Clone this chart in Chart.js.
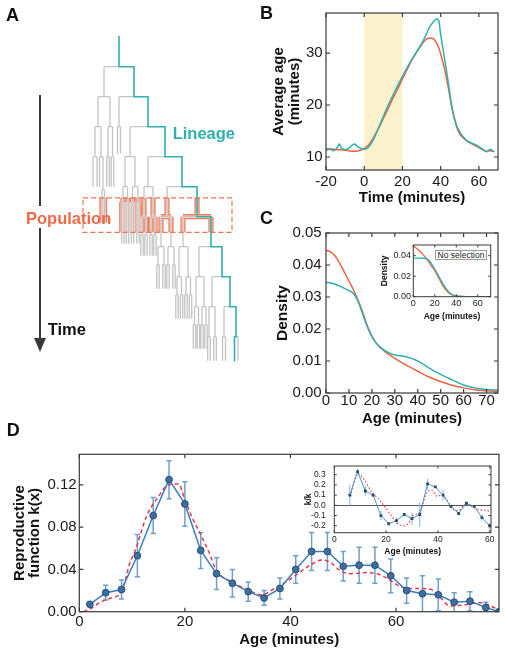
<!DOCTYPE html>
<html>
<head>
<meta charset="utf-8">
<script src="https://cdn.jsdelivr.net/npm/chart.js@4"></script>
<style>
  html, body { margin: 0; padding: 0; background: #fff; }
  body { width: 505px; height: 654px; position: relative; overflow: hidden;
         font-family: "Liberation Sans", Arial, Helvetica, sans-serif; }
  canvas, .txt, .shape { position: absolute; }
  .txt { white-space: nowrap; font-weight: bold; }
  .panel { font-size: 18px; line-height: 18px; color: #111; }
  .note { font-size: 16.5px; line-height: 16.5px; }
</style>
</head>
<body>
<canvas id="tree" width="260" height="370" style="left:0;top:0"></canvas>
<canvas id="ageTime" width="255" height="206" style="left:250px;top:0"></canvas>
<canvas id="density" width="255" height="213" style="left:250px;top:214px"></canvas>
<canvas id="densityInset" width="115" height="82" style="left:380px;top:240px"></canvas>
<canvas id="repro" width="505" height="208" style="left:0;top:440px"></canvas>
<canvas id="reproInset" width="195" height="95" style="left:300px;top:462px"></canvas>

<div class="shape" style="left:39px;top:95px;width:2px;height:111px;background:#3a3a3a"></div>
<div class="shape" style="left:39px;top:228px;width:2px;height:112px;background:#3a3a3a"></div>
<div class="shape" style="left:34px;top:338px;width:0;height:0;border-left:6px solid transparent;border-right:6px solid transparent;border-top:14px solid #3a3a3a"></div>

<div class="txt panel" style="left:6px;top:6px">A</div>
<div class="txt panel" style="left:260px;top:4.4px">B</div>
<div class="txt panel" style="left:260px;top:209.4px">C</div>
<div class="txt panel" style="left:6.7px;top:420.7px">D</div>
<div class="txt note" style="left:172.7px;top:125.2px;color:#2fb0ad">Lineage</div>
<div class="txt note" style="left:26px;top:209.5px;color:#ef6a47">Population</div>
<div class="txt note" style="left:47.7px;top:320.5px;color:#111">Time</div>
<div class="txt" style="left:435px;top:250px;width:52px;height:10px;box-sizing:border-box;border:1px solid #9a9a9a;background:#fff;font-weight:normal;font-size:8.5px;line-height:8px;text-align:center;color:#222">No selection</div>

<script>
const teal = "#2fb0ad";
const orange = "#f0623f";
const frameColor = "#3a3a3a";

// panel B: average age over time
const bTime = [-20, -18, -16, -14, -13, -12, -10, -8, -6, -5, -4, -2,
  0, 2, 4, 6, 8, 10, 12, 14, 16, 18, 20, 22, 24, 26, 28, 30, 32, 34, 36, 38, 39,
  40, 42, 44, 46, 48, 50, 52, 54, 56, 58, 60, 62, 64, 66, 68];
const bPopulation = [11.6, 11.6, 11.5, 11.4, 11.4, 11.4, 11.3, 11.2, 11.1, 11.1, 11.1, 11.3,
  11.6, 12.2, 13.2, 14.5, 15.9, 17.4, 18.9, 20.5, 22.0, 23.5, 25.0, 26.5, 28.0, 29.3, 30.5, 31.6, 32.5, 32.9, 32.8, 31.8, 31.0,
  29.8, 27.0, 23.3, 19.2, 16.2, 14.4, 13.6, 13.0, 12.6, 12.2, 11.8, 11.4, 11.1, 11.2, 11.0];
const bLineage = [11.3, 11.5, 11.2, 11.9, 12.5, 11.8, 11.4, 11.7, 12.4, 12.5, 12.2, 11.7,
  11.5, 11.8, 12.8, 14.3, 16.0, 17.8, 19.5, 21.1, 22.6, 24.1, 25.5, 26.9, 28.2, 29.4, 30.6, 31.8, 33.2, 34.9, 35.9, 36.6, 36.2,
  33.6, 29.0, 24.3, 19.4, 16.4, 14.8, 13.8, 13.1, 12.7, 12.4, 12.0, 11.5, 11.0, 11.5, 11.0];
const bSelection = [0, 20];
const bXTicks = [-20, 0, 20, 40, 60];
const bYTicks = [10, 20, 30];

// panel C: age density
const cAge = [0, 2, 4, 6, 8, 10, 12, 14, 16, 18, 20, 22, 24, 26, 28, 30, 35, 40, 45, 50, 55, 60, 65, 70, 75];
const cPopulation = [0.0446, 0.0441, 0.0428, 0.0405, 0.0378, 0.0350, 0.0322, 0.0290, 0.0252, 0.0210, 0.0178, 0.0155, 0.0140,
  0.0128, 0.0118, 0.0108, 0.0087, 0.0068, 0.0050, 0.0036, 0.0024, 0.0016, 0.0010, 0.0007, 0.0005];
const cLineage = [0.0346, 0.0344, 0.0340, 0.0334, 0.0327, 0.0320, 0.0311, 0.0286, 0.0247, 0.0207, 0.0177, 0.0155, 0.0141,
  0.0131, 0.0124, 0.0119, 0.0113, 0.0100, 0.0078, 0.0058, 0.0041, 0.0025, 0.0016, 0.0011, 0.0009];
const cXTicks = [0, 10, 20, 30, 40, 50, 60, 70];
const cYTicks = [0, 0.01, 0.02, 0.03, 0.04, 0.05];

// panel C inset: no selection
const ciAge = [0, 5, 10, 14, 17, 20, 25, 30, 35, 40, 45, 50, 60, 72];
const ciPopulation = [0.0495, 0.0455, 0.0400, 0.0345, 0.0298, 0.0255, 0.0155, 0.0070, 0.0022, 0.0007, 0.0002, 0, 0, 0];
const ciLineage = [0.0376, 0.0376, 0.0375, 0.0360, 0.0320, 0.0270, 0.0175, 0.0085, 0.0028, 0.0009, 0.0003, 0.0001, 0, 0];
const ciXTicks = [0, 20, 40, 60];
const ciYTicks = [0, 0.02, 0.04];

// panel D: reproductive function
const dAge = [2, 5, 8, 11, 14, 17, 20, 23, 26, 29, 32, 35, 38, 41, 44, 47, 50, 53, 56, 59, 62, 65, 68, 71, 74, 77, 79.5];
const dK = [0.007, 0.018, 0.021, 0.053, 0.091, 0.125, 0.102, 0.058, 0.036, 0.027, 0.019, 0.013, 0.022, 0.040,
  0.057, 0.057, 0.043, 0.044, 0.044, 0.034, 0.020, 0.017, 0.016, 0.009, 0.010, 0.004, 0.000];
const dErr = [0, 0.007, 0.009, 0.020, 0.017, 0.018, 0.021, 0.017, 0.015, 0.013, 0.009, 0.007, 0.010, 0.013,
  0.018, 0.018, 0.014, 0.017, 0.017, 0.016, 0.012, 0.017, 0.015, 0.009, 0.009, 0.005, 0];
const dFitAge = [0.8, 2.5, 4, 6, 7.5, 8.5, 9.5, 10.6, 12.8, 15, 16.8, 18.8, 20, 21.3, 22.9, 24.5, 26, 28.9, 32, 34.5, 37,
  40, 43.7, 45.9, 47.5, 49.4, 51.3, 54.4, 57, 58.8, 60.7, 63.3, 66.4, 68.3, 70.2, 72.7, 75.9, 79];
const dFitK = [0, 0.004, 0.009, 0.013, 0.016, 0.026, 0.045, 0.058, 0.091, 0.109, 0.120, 0.121, 0.106, 0.090, 0.074, 0.057,
  0.039, 0.028, 0.0205, 0.016, 0.022, 0.031, 0.044, 0.049, 0.047, 0.039, 0.036, 0.037, 0.035, 0.030, 0.024, 0.022,
  0.0215, 0.014, 0.0054, 0.0063, 0.0085, 0.003];
const dXTicks = [0, 20, 40, 60];
const dYTicks = [0, 0.04, 0.08, 0.12];

// panel D inset: relative change k/k
const diAge = [6, 9, 12, 15, 18, 21, 24, 27, 30, 33, 36, 39, 42, 45, 48, 51, 54, 57, 60];
const diK = [0.10, 0.33, 0.14, 0.10, -0.10, -0.18, -0.15, -0.09, -0.13, -0.09, 0.21, 0.18, 0.10, -0.01, -0.08, 0.02, -0.01, -0.12, -0.20];
const diErr = [0.10, 0.03, 0.05, 0.02, 0.045, 0.01, 0.03, 0.01, 0.06, 0.12, 0.05, 0.01, 0.05, 0.01, 0.01, 0.01, 0.01, 0.03, 0.03];
const diFitAge = [6.2, 9, 11.6, 14.2, 16.8, 19.4, 22, 24.6, 26.5, 28.5, 30.5, 33, 35.6, 37.6, 39.6, 41.5, 43.5, 45.5, 48, 50.6, 53, 55.6, 58, 60.5];
const diFitK = [0.09, 0.31, 0.25, 0.14, 0.07, -0.01, -0.10, -0.18, -0.20, -0.18, -0.10, -0.07, 0.12, 0.15, 0.09, 0.10, 0.05,
  -0.03, -0.05, 0.01, -0.01, -0.04, -0.05, -0.06];
const diXTicks = [0, 20, 40, 60];
const diYTicks = [-0.2, -0.1, 0, 0.1, 0.2, 0.3];

// panel A: cell tree (x = lane position, end = division time in generations)
const N = (x, end, kids = []) => ({ x, end, kids, lin: false });
const L = (x, end, kids = []) => ({ x, end, kids, lin: true });
const P = (x, end, d, leafEnd) => N(x, end, [N(x - d, leafEnd), N(x + d, leafEnd)]);
const tree = L(119, 1, [
  N(104, 2, [
    N(98, 3, [
      P(95, 4, 2, 5),
      N(101, 4, [N(99.5, 5), N(103, 5.1, [N(102, 6.2), N(104.5, 6.2)])])
    ]),
    N(110, 3, [P(108, 4, 1.3, 5), P(112.5, 4, 1.3, 5)])
  ]),
  L(134, 2, [
    P(119, 3, 1.5, 3.9),
    L(148, 3, [
      N(130, 4, [
        N(125, 5, [P(123, 5.5, 1.2, 6.9), P(127.5, 5.5, 1.2, 6.9)]),
        N(135, 5, [P(132.5, 5.5, 1.2, 6.9), P(138, 5.5, 1.2, 6.9)])
      ]),
      L(165, 4, [
        N(148, 5, [
          N(144, 6, [P(142, 6.6, 1.2, 7.3), P(146, 6.6, 1.2, 7.3)]),
          N(153, 6, [P(151, 6.6, 1.2, 7.3), P(155, 6.6, 1.2, 7.3)])
        ]),
        L(182, 5, [
          N(167, 6, [
            N(161, 7, [P(158, 7.6, 1.2, 8.4), P(164, 7.6, 1.2, 8.4)]),
            N(171, 7, [P(168, 7.6, 1.2, 8.4), P(174, 7.6, 1.2, 8.4)])
          ]),
          L(197, 6, [
            N(183, 7, [
              N(179, 8, [P(177, 8.6, 1.2, 9.4), P(181.5, 8.6, 1.2, 9.4)]),
              N(188, 8, [P(186, 8.6, 1.2, 9.4), P(190.5, 8.6, 1.2, 9.4)])
            ]),
            L(211, 7, [
              N(199, 8, [
                N(196, 9, [P(194.5, 9.6, 1.2, 10.4), P(198.5, 9.6, 1.2, 10.4)]),
                N(204, 9, [P(202, 9.6, 1.2, 10.4), P(206, 9.6, 1.2, 10.4)])
              ]),
              L(222, 8, [
                N(212, 9, [P(209, 10, 1.3, 10.8), P(215, 10, 1.3, 10.8)]),
                L(230, 9, [
                  P(224, 10, 1.5, 10.8),
                  L(236, 10, [L(234.5, 10.8), N(238, 10.8)])
                ])
              ])
            ])
          ])
        ])
      ])
    ])
  ])
]);
const popWindow = [5.37, 6.52];
const popLanes = [83, 232];

const pts = zip => zip[0].map((x, i) => ({ x, y: zip[1][i] }));

const graySeg = [], tealSeg = [], popSeg = [];
function seg(list, x0, y0, x1, y1) {
  list.push({ x: x0, y: y0 }, { x: x1, y: y1 }, { x: x1, y: null });
}
function walk(node, start) {
  seg(node.lin ? tealSeg : graySeg, node.x, start, node.x, node.end);
  const a = Math.max(start, popWindow[0]), b = Math.min(node.end, popWindow[1]);
  if (a < b) seg(popSeg, node.x, a, node.x, b);
  if (!node.kids.length) return;
  const [k1, k2] = node.kids;
  if (node.lin) {
    const on = k1.lin ? k1 : k2, off = k1.lin ? k2 : k1;
    seg(graySeg, off.x, node.end, node.x, node.end);
    seg(tealSeg, node.x, node.end, on.x, node.end);
  } else {
    seg(graySeg, k1.x, node.end, k2.x, node.end);
  }
  if (node.end > popWindow[0] && node.end < popWindow[1]) seg(popSeg, k1.x, node.end, k2.x, node.end);
  node.kids.forEach(k => walk(k, node.end));
}
walk(tree, 0);

// matplotlib-like frame with inward ticks
const framePlugin = {
  id: "frame",
  afterDatasetsDraw(chart, args, o) {
    if (!o.on) return;
    const { ctx, chartArea: a, scales: { x, y } } = chart;
    ctx.save();
    ctx.strokeStyle = frameColor;
    ctx.lineWidth = o.width || 1.2;
    ctx.beginPath();
    x.ticks.forEach(t => {
      const p = x.getPixelForValue(t.value);
      ctx.moveTo(p, a.bottom); ctx.lineTo(p, a.bottom - o.tick);
      ctx.moveTo(p, a.top); ctx.lineTo(p, a.top + o.tick);
    });
    y.ticks.forEach(t => {
      const p = y.getPixelForValue(t.value);
      ctx.moveTo(a.left, p); ctx.lineTo(a.left + o.tick, p);
      ctx.moveTo(a.right, p); ctx.lineTo(a.right - o.tick, p);
    });
    ctx.stroke();
    ctx.strokeRect(a.left, a.top, a.right - a.left, a.bottom - a.top);
    ctx.restore();
  }
};
const shadePlugin = {
  id: "shade",
  beforeDatasetsDraw(chart, args, o) {
    if (!o.range) return;
    const { ctx, chartArea: a, scales: { x } } = chart;
    const x0 = x.getPixelForValue(o.range[0]), x1 = x.getPixelForValue(o.range[1]);
    ctx.save();
    ctx.fillStyle = o.color;
    ctx.fillRect(x0, a.top, x1 - x0, a.bottom - a.top);
    ctx.restore();
  }
};
const popBoxPlugin = {
  id: "popBox",
  afterDatasetsDraw(chart, args, o) {
    if (!o.on) return;
    const { ctx, scales: { x, y } } = chart;
    const x0 = x.getPixelForValue(popLanes[0]), x1 = x.getPixelForValue(popLanes[1]);
    const y0 = y.getPixelForValue(popWindow[0]), y1 = y.getPixelForValue(popWindow[1]);
    ctx.save();
    ctx.strokeStyle = "#f07352";
    ctx.lineWidth = 1.2;
    ctx.setLineDash([5, 3]);
    ctx.strokeRect(x0, y0, x1 - x0, y1 - y0);
    ctx.restore();
  }
};
Chart.register(framePlugin, shadePlugin, popBoxPlugin);
Chart.defaults.font.family = '"Liberation Sans", Arial, Helvetica, sans-serif';
Chart.defaults.color = "#1a1a1a";

function axis(o) {
  return {
    type: "linear", min: o.min, max: o.max,
    afterBuildTicks: s => { s.ticks = o.ticks.map(v => ({ value: v })); },
    afterFit: s => {
      if (o.width != null) s.width = o.width;
      if (o.height != null) s.height = o.height;
      s.paddingLeft = s.paddingRight = s.paddingTop = s.paddingBottom = 0;
    },
    grid: { display: !!o.gridColor, drawTicks: false, color: o.gridColor || "transparent", lineWidth: 1 },
    border: { display: false },
    ticks: {
      autoSkip: false, maxRotation: 0, minRotation: 0, padding: o.pad,
      font: { size: o.fs }, color: "#1a1a1a", callback: o.fmt
    },
    title: {
      display: true, text: o.title, color: "#111",
      font: { size: o.ts, weight: "bold", lineHeight: o.tlh },
      padding: { top: o.tpad || 0, bottom: 0 }
    }
  };
}
const fix = n => v => v.toFixed(n);
const whole = v => String(v);

function base(layoutPad, x, y, plugins) {
  return {
    responsive: false, animation: false, devicePixelRatio: 1, events: [],
    layout: { padding: layoutPad },
    scales: { x, y },
    plugins: Object.assign({ legend: { display: false }, tooltip: { enabled: false } }, plugins)
  };
}
function line(data, color, width, extra) {
  return Object.assign({ data, borderColor: color, borderWidth: width, pointRadius: 0,
    fill: false, tension: 0, spanGaps: false }, extra || {});
}

// panel A
new Chart(document.getElementById("tree"), {
  type: "line",
  data: { datasets: [
    line(tealSeg, teal, 1.6, { borderCapStyle: "square" }),
    line(graySeg, "#c4c4c4", 1.3),
    line(popSeg, "#fbd8cd", 2.6),
    line(popSeg, "#ef7a5c", 5.2)
  ] },
  options: base(0,
    { type: "linear", display: false, min: 0, max: 260 },
    { type: "linear", display: false, min: -36.7 / 30, max: (370 - 36.7) / 30, reverse: true },
    { frame: { on: false }, popBox: { on: true } })
});

// panel B
new Chart(document.getElementById("ageTime"), {
  type: "line",
  data: { datasets: [
    line(pts([bTime, bLineage]), teal, 1.5, { cubicInterpolationMode: "monotone" }),
    line(pts([bTime, bPopulation]), orange, 1.5, { cubicInterpolationMode: "monotone" })
  ] },
  options: base({ top: 13, right: 7, left: 0, bottom: 0 },
    axis({ min: -20, max: 70, ticks: bXTicks, height: 36, pad: 2.7, fs: 15, fmt: whole,
      title: "Time (minutes)", ts: 15, tlh: "16.5px" }),
    axis({ min: 7.5, max: 37.7, ticks: bYTicks, width: 76, pad: 3.3, fs: 15, fmt: whole,
      title: ["Average age", "(minutes)"], ts: 15, tlh: "16px", tpad: 21 }),
    { frame: { on: true, tick: 4 }, shade: { range: bSelection, color: "#fbf1cc" } })
});

// panel C
new Chart(document.getElementById("density"), {
  type: "line",
  data: { datasets: [
    line(pts([cAge, cLineage]), teal, 1.5, { cubicInterpolationMode: "monotone" }),
    line(pts([cAge, cPopulation]), orange, 1.5, { cubicInterpolationMode: "monotone" })
  ] },
  options: base({ top: 19, right: 7, left: 0, bottom: 0 },
    axis({ min: 0, max: 75, ticks: cXTicks, height: 34, pad: -1.5, fs: 15, fmt: whole,
      title: "Age (minutes)", ts: 15, tlh: "16.5px" }),
    axis({ min: 0, max: 0.05, ticks: cYTicks, width: 76, pad: 4.3, fs: 15, fmt: fix(2),
      title: "Density", ts: 15.5, tlh: "17px", tpad: 24 }),
    { frame: { on: true, tick: 4 } })
});

// panel C inset
new Chart(document.getElementById("densityInset"), {
  type: "line",
  data: { datasets: [
    line(pts([ciAge, ciLineage]), teal, 1.3, { cubicInterpolationMode: "monotone" }),
    line(pts([ciAge, ciPopulation]), orange, 1.3, { cubicInterpolationMode: "monotone" })
  ] },
  options: base({ top: 5, right: 4.3, left: 0, bottom: 0 },
    axis({ min: 0, max: 72, ticks: ciXTicks, height: 25.3, pad: 1.2, fs: 9, fmt: whole,
      title: "Age (minutes)", ts: 8.5, tlh: "10.2px" }),
    axis({ min: 0, max: 0.0504, ticks: ciYTicks, width: 33.3, pad: 2.3, fs: 9, fmt: fix(2),
      title: "Density", ts: 8.5, tlh: "10.2px", tpad: 0 }),
    { frame: { on: true, tick: 2.5, width: 1 } })
});

// error bar helpers
function stems(xs, ys, es) {
  const out = [];
  xs.forEach((x, i) => { if (es[i]) out.push({ x, y: ys[i] - es[i] }, { x, y: ys[i] + es[i] }, { x, y: null }); });
  return out;
}
function caps(xs, ys, es) {
  const out = [];
  xs.forEach((x, i) => { if (es[i]) out.push({ x, y: ys[i] - es[i] }, { x, y: ys[i] + es[i] }); });
  return out;
}

// panel D
new Chart(document.getElementById("repro"), {
  type: "line",
  data: { datasets: [
    line(pts([dAge, dK]), "#3b7dbf", 1.5, { pointRadius: 3.4, pointBackgroundColor: "#3f6f9d",
      pointBorderColor: "#24507a", pointBorderWidth: 1 }),
    line(pts([dFitAge, dFitK]), "#e8344a", 1.5, { borderDash: [4, 3], cubicInterpolationMode: "monotone" }),
    line(stems(dAge, dK, dErr), "#6f9fcb", 1.5),
    line(caps(dAge, dK, dErr), "#6f9fcb", 0, { showLine: false, pointStyle: "line", pointRadius: 2.6,
      pointBorderColor: "#6f9fcb", pointBorderWidth: 1.5 })
  ] },
  options: base({ top: 14.3, right: 6, left: 0, bottom: 0 },
    axis({ min: 0, max: 79.5, ticks: dXTicks, height: 36.3, pad: 1.6, fs: 15, fmt: whole,
      title: "Age (minutes)", ts: 15, tlh: "16.5px" }),
    axis({ min: 0, max: 0.149, ticks: dYTicks, width: 79.3, pad: 2.6, fs: 15, fmt: fix(2),
      title: ["Reproductive", "function k(x)"], ts: 15, tlh: "15px", tpad: 12.5 }),
    { frame: { on: true, tick: 4 } })
});

// panel D inset
new Chart(document.getElementById("reproInset"), {
  type: "line",
  data: { datasets: [
    line(pts([diAge, diK]), "#4f95cf", 1, { pointStyle: "rect", pointRadius: 2, pointBackgroundColor: "#2d4b6c",
      pointBorderColor: "#2d4b6c", pointBorderWidth: 0 }),
    line(pts([diFitAge, diFitK]), "#e8445a", 1.2, { borderDash: [1.5, 2], cubicInterpolationMode: "monotone" }),
    line(stems(diAge, diK, diErr), "#85b3da", 1)
  ] },
  options: base({ top: 3, right: 4, left: 0, bottom: 0 },
    axis({ min: 0, max: 60.5, ticks: diXTicks, height: 24.3, pad: 2.2, fs: 8.5, fmt: whole,
      title: "Age (minutes)", ts: 8.5, tlh: "10.2px" }),
    Object.assign(axis({ min: -0.268, max: 0.385, ticks: diYTicks, width: 34.3, pad: 8.6, fs: 8.5, fmt: fix(1),
      title: "k/k", ts: 8.5, tlh: "10.2px", tpad: 3.2 }),
      { grid: { display: true, drawTicks: false, lineWidth: 1,
        color: c => (c.tick && Math.abs(c.tick.value) < 1e-9 ? "#555" : "rgba(0,0,0,0)") } }),
    { frame: { on: true, tick: 2.5, width: 1 } })
});
</script>
</body>
</html>
